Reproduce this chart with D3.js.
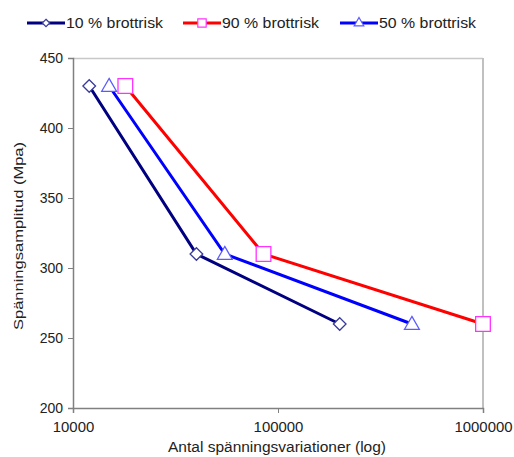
<!DOCTYPE html>
<html>
<head>
<meta charset="utf-8">
<script src="https://cdn.jsdelivr.net/npm/d3@7"></script>
<style>
  body { margin: 0; background: #fff; }
  text { font-family: "Liberation Sans", Arial, sans-serif; fill: #222; }
</style>
</head>
<body>
<div id="chart"></div>
<script>
// data
var cycles10 = [12000, 40000, 200000];
var stress10 = [430, 310, 260];
var cycles90 = [18000, 85000, 1000000];
var stress90 = [430, 310, 260];
var cycles50 = [15000, 55000, 450000];
var stress50 = [430, 310, 260];
var seriesNames = ["10 % brottrisk", "90 % brottrisk", "50 % brottrisk"];
var xTicks = [10000, 100000, 1000000];
var yTicks = [200, 250, 300, 350, 400, 450];

var margin = { top: 58, right: 31, bottom: 49, left: 73 },
    width = 514 - margin.left - margin.right,
    height = 457 - margin.top - margin.bottom;

var x = d3.scaleLog().domain([10000, 1000000]).range([0, width]);
var y = d3.scaleLinear().domain([200, 450]).range([height, 0]);

var svg = d3.select("#chart")
    .append("svg")
    .attr("width", 514)
    .attr("height", 457);

var g = svg.append("g")
    .attr("transform", "translate(" + margin.left + "," + margin.top + ")");

// rotated square, Excel style
var diamond = {
    draw: function (ctx, size) {
        var r = Math.sqrt(size / 2);
        ctx.moveTo(0, -r);
        ctx.lineTo(r, 0);
        ctx.lineTo(0, r);
        ctx.lineTo(-r, 0);
        ctx.closePath();
    }
};

var series = [
    { name: seriesNames[0], xs: cycles10, ys: stress10, line: "#000080", marker: "#3a3a9a", shape: diamond, size: 80, lsize: 28 },
    { name: seriesNames[1], xs: cycles90, ys: stress90, line: "#ff0000", marker: "#ff33ff", shape: d3.symbolSquare, size: 215, lsize: 70 },
    { name: seriesNames[2], xs: cycles50, ys: stress50, line: "#0000ff", marker: "#5a5aff", shape: d3.symbolTriangle, size: 95, lsize: 40 }
];

// plot frame (top & right light gray)
g.append("line").attr("x1", 0).attr("x2", width).attr("y1", 0.5).attr("y2", 0.5)
    .attr("stroke", "#c8c8c8").attr("stroke-width", 1.5);
g.append("line").attr("x1", width).attr("x2", width).attr("y1", 0).attr("y2", height)
    .attr("stroke", "#c0c0c0").attr("stroke-width", 2);

// axes
var yAxis = g.append("g")
    .call(d3.axisLeft(y).tickValues(yTicks).tickSize(5).tickPadding(5).tickFormat(d3.format("d")));
var xAxis = g.append("g")
    .attr("transform", "translate(0," + height + ")")
    .call(d3.axisBottom(x).tickValues(xTicks).tickSize(5).tickPadding(9).tickFormat(d3.format("d")));

[xAxis, yAxis].forEach(function (a) {
    a.select(".domain").attr("stroke", "#808080").attr("stroke-width", 1.5);
    a.selectAll(".tick line").attr("stroke", "#808080");
    a.selectAll(".tick text").style("font-size", "14px").attr("fill", "#222");
});
xAxis.selectAll(".tick text")
    .attr("textLength", function (d) { return String(d).length * 8.3; })
    .attr("lengthAdjust", "spacingAndGlyphs");

// lines and markers
var line = d3.line()
    .x(function (d) { return x(d[0]); })
    .y(function (d) { return y(d[1]); });

series.forEach(function (s) {
    var pts = s.xs.map(function (v, i) { return [v, s.ys[i]]; });
    g.append("path")
        .datum(pts)
        .attr("d", line)
        .attr("fill", "none")
        .attr("stroke", s.line)
        .attr("stroke-width", 3);
    g.selectAll(null)
        .data(pts)
        .enter().append("path")
        .attr("d", d3.symbol().type(s.shape).size(s.size))
        .attr("transform", function (d) {
            var dy = s.shape === d3.symbolTriangle ? 1 : 0;
            return "translate(" + x(d[0]) + "," + (y(d[1]) + dy) + ")";
        })
        .attr("fill", "#fff")
        .attr("stroke", s.marker)
        .attr("stroke-width", 1.3);
});

// axis titles
svg.append("text")
    .attr("x", 277)
    .attr("y", 452)
    .attr("text-anchor", "middle")
    .attr("textLength", 218)
    .attr("lengthAdjust", "spacingAndGlyphs")
    .style("font-size", "14px")
    .text("Antal spänningsvariationer (log)");

svg.append("text")
    .attr("transform", "translate(23,236) rotate(-90)")
    .attr("text-anchor", "middle")
    .attr("textLength", 188)
    .attr("lengthAdjust", "spacingAndGlyphs")
    .style("font-size", "13px")
    .text("Spänningsamplitud (Mpa)");

// legend
var legendX = [27, 183, 340];
var legend = svg.selectAll(".legend")
    .data(series)
    .enter().append("g")
    .attr("class", "legend")
    .attr("transform", function (d, i) { return "translate(" + legendX[i] + ",23)"; });

legend.append("line")
    .attr("x1", 0).attr("x2", 38)
    .attr("stroke", function (d) { return d.line; })
    .attr("stroke-width", 3);
legend.append("path")
    .attr("d", function (d) { return d3.symbol().type(d.shape).size(d.lsize)(); })
    .attr("transform", "translate(19,0)")
    .attr("fill", "#fff")
    .attr("stroke", function (d) { return d.marker; })
    .attr("stroke-width", 1.2);
legend.append("text")
    .attr("x", 39)
    .attr("y", 5)
    .attr("textLength", 97)
    .attr("lengthAdjust", "spacingAndGlyphs")
    .style("font-size", "14px")
    .text(function (d) { return d.name; });
</script>
</body>
</html>
